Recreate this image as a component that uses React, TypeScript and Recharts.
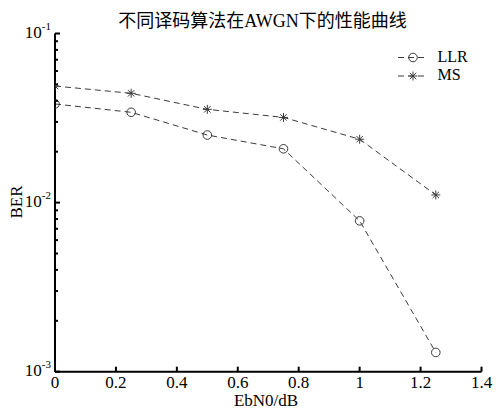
import React from 'react';
import { LineChart, Line, XAxis, YAxis, Legend, Customized } from 'recharts';

// Eb/N0 points (dB) and measured bit error rates for the two decoders
const ebn0 = [0, 0.25, 0.5, 0.75, 1.0, 1.25];
const llrBer = [0.0383, 0.0342, 0.0251, 0.0208, 0.0078, 0.0013];
const msBer = [0.0489, 0.0443, 0.0356, 0.0319, 0.0237, 0.0111];

const xTicks = [0, 0.2, 0.4, 0.6, 0.8, 1, 1.2, 1.4];
const yDecades = [0.001, 0.01, 0.1];
const seriesNames = ['LLR', 'MS'];

const title = '不同译码算法在AWGN下的性能曲线';
const xLabel = 'EbN0/dB';
const yLabel = 'BER';

const FONT = '"Liberation Serif", "Times New Roman", serif';
const TITLE_FONT = '"Liberation Serif", "Noto Sans CJK SC", serif';
const INK = '#000';
const SERIES_INK = '#3a3a3a';

const data = ebn0.map((x, i) => ({ x, llr: llrBer[i], ms: msBer[i] }));

// major decades plus 2..9 minor ticks between them
const yTicks: number[] = [];
for (let d = 0; d < yDecades.length - 1; d++) {
  for (let k = 1; k <= 9; k++) yTicks.push(Number((k * yDecades[d]).toPrecision(3)));
}
yTicks.push(yDecades[yDecades.length - 1]);

const isDecade = (v: number) => Math.abs(Math.log10(v) - Math.round(Math.log10(v))) < 1e-6;
const fmtX = (v: number) => String(Math.round(v * 10) / 10);

const BottomTick = (props: any) => {
  const { x, y, payload } = props;
  return (
    <g>
      <line x1={x} y1={y} x2={x} y2={y - 5} stroke={INK} strokeWidth={2} />
      <text x={x} y={y + 16} textAnchor="middle" fontFamily={FONT} fontSize={17} fill={INK}>
        {fmtX(payload.value)}
      </text>
    </g>
  );
};

const TopTick = (props: any) => {
  const { x, y } = props;
  return <line x1={x} y1={y} x2={x} y2={y + 5} stroke={INK} strokeWidth={2} />;
};

const LeftTick = (props: any) => {
  const { x, y, payload } = props;
  const major = isDecade(payload.value);
  const exp = Math.round(Math.log10(payload.value));
  return (
    <g>
      <line x1={x} y1={y} x2={x + (major ? 5 : 3)} y2={y} stroke={INK} strokeWidth={2} />
      {major && (
        <text x={x - 4} y={y + 4.5} textAnchor="end" fontFamily={FONT} fontSize={17} fill={INK}>
          <tspan>10</tspan>
          <tspan dy={-8} fontSize={11}>{String(exp)}</tspan>
        </text>
      )}
    </g>
  );
};

const RightTick = (props: any) => {
  const { x, y, payload } = props;
  const major = isDecade(payload.value);
  return <line x1={x} y1={y} x2={x - (major ? 5 : 3)} y2={y} stroke={INK} strokeWidth={2} />;
};

const CircleMark = ({ cx, cy }: { cx: number; cy: number }) => (
  <circle cx={cx} cy={cy} r={4.3} fill="none" stroke={SERIES_INK} strokeWidth={1} />
);

const StarMark = ({ cx, cy }: { cx: number; cy: number }) => {
  const r = 4.5;
  const d = r * Math.SQRT1_2;
  return (
    <g stroke={SERIES_INK} strokeWidth={1}>
      <line x1={cx - r} y1={cy} x2={cx + r} y2={cy} />
      <line x1={cx} y1={cy - r} x2={cx} y2={cy + r} />
      <line x1={cx - d} y1={cy - d} x2={cx + d} y2={cy + d} />
      <line x1={cx - d} y1={cy + d} x2={cx + d} y2={cy - d} />
    </g>
  );
};

const markers = [CircleMark, StarMark];

const LegendBox = () => (
  <svg width={95} height={44} style={{ display: 'block', overflow: 'visible' }}>
    {seriesNames.map((name, i) => {
      const Mark = markers[i];
      const base = 19.5 + i * 18.5;
      const my = base - 4;
      return (
        <g key={name}>
          <line x1={6} y1={my} x2={36} y2={my} stroke={SERIES_INK} strokeWidth={1} strokeDasharray="6 4" />
          <Mark cx={21} cy={my} />
          <text x={45.5} y={base} fontFamily={FONT} fontSize={16} fill={INK}>{name}</text>
        </g>
      );
    })}
  </svg>
);

const Annotations = () => (
  <g>
    <text x={262.5} y={27} textAnchor="middle" fontFamily={TITLE_FONT} fontSize={18} fill={INK}>
      {title}
    </text>
    <text x={266} y={405.5} textAnchor="middle" fontFamily={FONT} fontSize={17} fill={INK}>
      {xLabel}
    </text>
    <text
      x={21.5}
      y={202}
      textAnchor="middle"
      transform="rotate(-90 21.5 202)"
      fontFamily={FONT}
      fontSize={17}
      fill={INK}
    >
      {yLabel}
    </text>
  </g>
);

const axisLine = { stroke: INK, strokeWidth: 2 };

export default function App() {
  return (
    <div style={{ width: 499, height: 408, background: '#fff' }}>
      <style>{'html,body{margin:0;padding:0;overflow:hidden;background:#fff}'}</style>
      <LineChart
        width={499}
        height={408}
        data={data}
        margin={{ top: 33.5, right: 17.5, bottom: 0, left: 0 }}
      >
        <XAxis
          dataKey="x"
          type="number"
          domain={[0, 1.4]}
          ticks={xTicks}
          interval={0}
          allowDataOverflow
          height={36.3}
          tickSize={0}
          tickMargin={0}
          tickLine={false}
          axisLine={axisLine}
          tick={<BottomTick />}
        />
        <XAxis
          xAxisId="top"
          orientation="top"
          dataKey="x"
          type="number"
          domain={[0, 1.4]}
          ticks={xTicks}
          interval={0}
          allowDataOverflow
          height={0}
          tickSize={0}
          tickMargin={0}
          tickLine={false}
          axisLine={axisLine}
          tick={<TopTick />}
        />
        <YAxis
          type="number"
          scale="log"
          domain={[0.001, 0.1]}
          ticks={yTicks}
          interval={0}
          allowDataOverflow
          width={55}
          tickSize={0}
          tickMargin={0}
          tickLine={false}
          axisLine={axisLine}
          tick={<LeftTick />}
        />
        <YAxis
          yAxisId="right"
          orientation="right"
          type="number"
          scale="log"
          domain={[0.001, 0.1]}
          ticks={yTicks}
          interval={0}
          allowDataOverflow
          width={0}
          tickSize={0}
          tickMargin={0}
          tickLine={false}
          axisLine={axisLine}
          tick={<RightTick />}
        />
        <Line
          dataKey="llr"
          name={seriesNames[0]}
          stroke={SERIES_INK}
          strokeWidth={1}
          strokeDasharray="6 4"
          isAnimationActive={false}
          activeDot={false}
          dot={(p: any) => <CircleMark key={`llr-${p.index}`} cx={p.cx} cy={p.cy} />}
        />
        <Line
          dataKey="ms"
          name={seriesNames[1]}
          stroke={SERIES_INK}
          strokeWidth={1}
          strokeDasharray="6 4"
          isAnimationActive={false}
          activeDot={false}
          dot={(p: any) => <StarMark key={`ms-${p.index}`} cx={p.cx} cy={p.cy} />}
        />
        <Legend
          layout="horizontal"
          verticalAlign="middle"
          align="center"
          content={<LegendBox />}
          wrapperStyle={{ position: 'absolute', left: 392, top: 42, width: 95, height: 44 }}
        />
        <Customized component={Annotations} />
      </LineChart>
    </div>
  );
}
